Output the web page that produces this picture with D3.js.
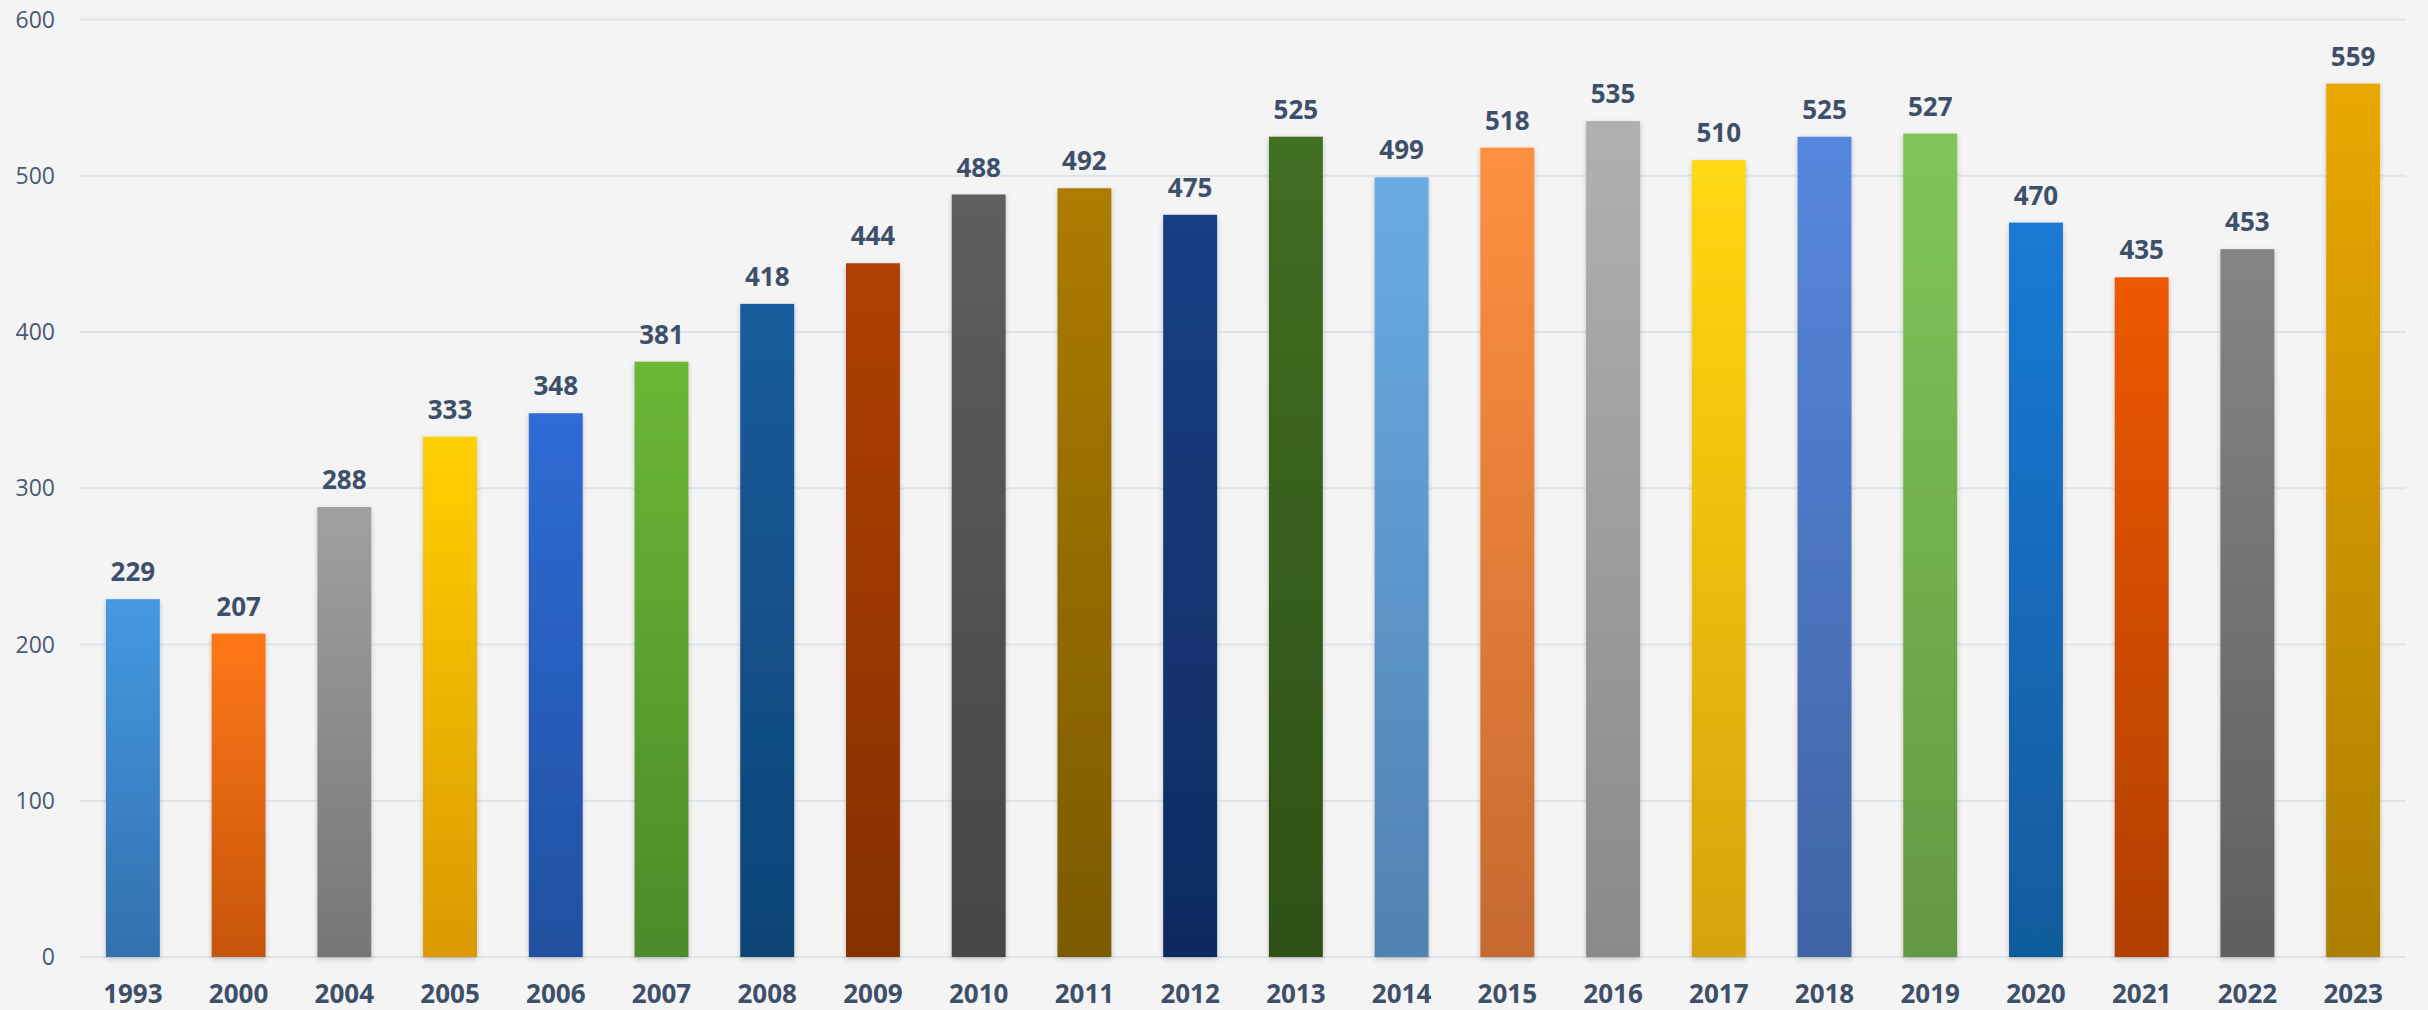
<!DOCTYPE html>
<html>
<head>
<meta charset="utf-8">
<script src="https://cdn.jsdelivr.net/npm/d3@7"></script>
<style>
  html, body { margin: 0; padding: 0; background: #f4f4f4; }
  svg { display: block; }
</style>
</head>
<body>
<svg id="chart" width="2428" height="1010"></svg>
<script>
// data
const years = ['1993', '2000', '2004', '2005', '2006', '2007', '2008', '2009', '2010', '2011', '2012',
  '2013', '2014', '2015', '2016', '2017', '2018', '2019', '2020', '2021', '2022', '2023'];
const counts = [229, 207, 288, 333, 348, 381, 418, 444, 488, 492, 475,
  525, 499, 518, 535, 510, 525, 527, 470, 435, 453, 559];
const topColors = ['#4499e2', '#ff7713', '#a0a0a0', '#ffd000', '#2f6cd6', '#6ab836', '#175c9c', '#b04000',
  '#5e5e5e', '#ad7c00', '#183f85', '#416f22', '#6aabe6', '#ff9040', '#b0b0b0', '#ffd812',
  '#5687de', '#80c659', '#1a7ad6', '#ed5800', '#858585', '#e9a800'];
const bottomColors = ['#3370ae', '#c65510', '#767676', '#da9900', '#2050a0', '#4d8a2a', '#0e4476', '#843000',
  '#464646', '#7b5a00', '#0f2b60', '#2e5016', '#4f82b0', '#c66a30', '#8a8a8a', '#d6a30c',
  '#4064a4', '#649842', '#115a9c', '#b13f00', '#5f5f5f', '#ae7e00'];
const yTicks = [0, 100, 200, 300, 400, 500, 600];

// layout
const svg = d3.select('#chart');
const plotLeft = 80, plotRight = 2406, plotTop = 19.5, plotBottom = 957;

const x = d3.scaleBand()
  .domain(years)
  .range([plotLeft, plotRight])
  .paddingInner(0.49)
  .paddingOuter(0.245);

const y = d3.scaleLinear()
  .domain([0, 600])
  .range([plotBottom, plotTop]);

svg.append('rect')
  .attr('width', 2428)
  .attr('height', 1010)
  .attr('fill', '#f4f4f4');

const defs = svg.append('defs');

// gradients per bar
years.forEach((yr, i) => {
  const g = defs.append('linearGradient')
    .attr('id', 'grad' + i)
    .attr('x1', 0).attr('y1', 0)
    .attr('x2', 0).attr('y2', 1);
  g.append('stop').attr('offset', '0%').attr('stop-color', topColors[i]);
  g.append('stop').attr('offset', '100%').attr('stop-color', bottomColors[i]);
});

const shadow = defs.append('filter')
  .attr('id', 'shadow')
  .attr('x', '-30%').attr('y', '-10%')
  .attr('width', '160%').attr('height', '120%');
shadow.append('feDropShadow')
  .attr('dx', 0).attr('dy', 2)
  .attr('stdDeviation', 2.5)
  .attr('flood-color', '#000')
  .attr('flood-opacity', 0.22);

// grid lines + y labels
const grid = svg.append('g');
grid.selectAll('line')
  .data(yTicks)
  .join('line')
  .attr('x1', plotLeft)
  .attr('x2', plotRight)
  .attr('y1', d => y(d))
  .attr('y2', d => y(d))
  .attr('stroke', '#dfe3ea')
  .attr('stroke-width', 2);

grid.selectAll('text')
  .data(yTicks)
  .join('text')
  .attr('x', 55)
  .attr('y', d => y(d))
  .attr('dy', '0.35em')
  .attr('text-anchor', 'end')
  .attr('font-family', '"Open Sans", sans-serif')
  .attr('font-size', 23)
  .attr('fill', '#4a5a72')
  .text(d => d);

// bars
svg.append('g')
  .selectAll('rect')
  .data(counts)
  .join('rect')
  .attr('x', (d, i) => x(years[i]))
  .attr('y', d => y(d))
  .attr('width', x.bandwidth())
  .attr('height', d => y(0) - y(d))
  .attr('fill', (d, i) => `url(#grad${i})`)
  .attr('filter', 'url(#shadow)');

// value labels
svg.append('g')
  .selectAll('text')
  .data(counts)
  .join('text')
  .attr('x', (d, i) => x(years[i]) + x.bandwidth() / 2)
  .attr('y', d => y(d) - 18)
  .attr('text-anchor', 'middle')
  .attr('font-family', '"Open Sans", sans-serif')
  .attr('font-weight', 'bold')
  .attr('font-size', 26)
  .attr('fill', '#3e4f69')
  .text(d => d);

// x labels
svg.append('g')
  .selectAll('text')
  .data(years)
  .join('text')
  .attr('x', d => x(d) + x.bandwidth() / 2)
  .attr('y', 1003)
  .attr('text-anchor', 'middle')
  .attr('font-family', '"Open Sans", sans-serif')
  .attr('font-weight', 'bold')
  .attr('font-size', 26)
  .attr('fill', '#3e4f69')
  .text(d => d);
</script>
</body>
</html>
